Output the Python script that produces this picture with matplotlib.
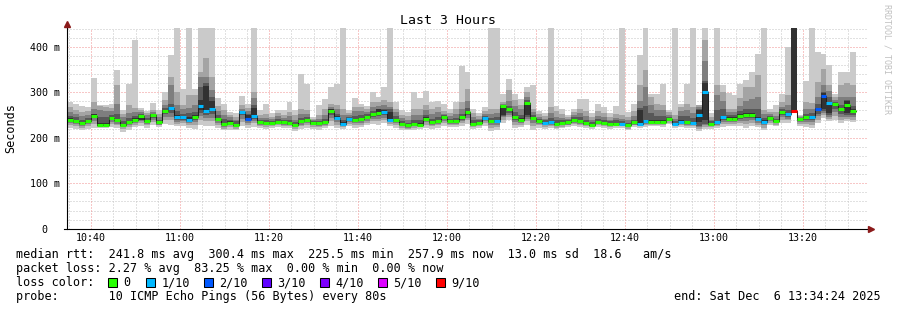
import matplotlib
matplotlib.use("Agg")
import matplotlib.pyplot as plt
from matplotlib.patches import Rectangle

# ---------------- data (values in ms) ----------------
start_min = 10 * 60 + 34 + 36 / 60.0   # left edge of the time axis (minutes since midnight)
end_min = start_min + 180.0
step_min = 80 / 60.0                    # one probe every 80 s

ping1 = [221,219,217,220,221,222,222,224,221,213, 218,224,226,222,228,224,230,228,225,226,
         222,220,228,226,226,222,216,218,216,226, 222,224,222,220,222,223,222,222,215,220,
         222,220,218,222,226,222,220,225,222,224, 228,230,228,232,225,222,218,216,218,220,
         222,220,222,226,224,224,226,230,220,222, 226,214,218,232,238,222,224,228,218,222,
         220,222,219,221,224,226,224,222,220,223, 222,220,222,222,216,224,222,224,226,225,
         224,230,222,224,222,222,215,220,220,222, 224,226,226,226,222,226,224,216,228,226,
         232,232,258,226,224,222,232,244,236,240, 232,236,234]
ping2 = [228,225,222,226,230,224,224,230,227,219, 224,229,232,227,234,227,238,238,231,232,
         228,228,240,236,236,228,220,223,220,235, 228,232,226,224,225,227,226,225,219,225,
         228,224,223,226,236,229,223,230,228,229, 233,236,236,239,230,228,222,219,222,223,
         229,225,227,232,228,228,232,238,224,225, 232,222,224,240,245,229,229,236,226,227,
         224,226,222,224,227,230,228,225,223,227, 225,223,225,225,220,227,225,228,229,228,
         227,233,225,227,226,225,220,224,223,226, 230,231,231,232,230,233,229,222,233,229,
         239,238,258,230,230,229,240,250,242,248, 240,242,240]
ping3 = [232,230,226,230,236,225,225,235,231,223, 228,233,236,231,239,229,245,246,235,236,
         232,234,248,244,244,232,224,227,223,242, 232,237,229,227,228,230,229,227,223,229,
         232,227,226,229,243,234,226,234,232,233, 237,241,242,244,234,232,225,222,226,225,
         234,228,231,237,231,231,236,244,226,228, 236,228,229,245,250,235,233,242,233,231,
         227,229,225,227,229,233,231,227,225,230, 228,226,227,227,223,229,227,231,231,230,
         230,236,227,230,229,228,223,227,226,229, 235,235,235,237,237,239,233,227,237,232,
         245,242,258,234,235,234,247,255,246,256, 246,246,245]
ping4 = [236,233,229,233,243,226,226,239,235,226, 231,236,238,234,244,231,252,255,240,240,
         235,240,255,250,252,236,227,230,226,249, 236,241,231,230,230,232,231,229,226,232,
         235,229,229,231,249,238,228,237,235,237, 241,245,247,249,237,235,227,224,228,227,
         238,231,234,241,234,234,240,249,228,230, 240,232,233,248,255,240,236,246,238,234,
         230,232,227,229,231,236,234,229,227,232, 230,228,229,229,225,231,229,233,233,232,
         232,238,229,232,231,230,225,230,228,231, 239,238,238,242,243,244,236,230,240,234,
         250,246,258,237,239,239,252,258,250,263, 252,250,250]
ping5 = [239,236,231,236,247,227,227,242,237,228, 233,239,240,236,248,233,257,262,244,244,
         238,245,261,256,258,240,229,232,228,254, 238,245,233,232,232,234,233,231,228,235,
         238,231,231,233,255,242,230,240,238,240, 245,249,250,255,239,239,229,226,230,228,
         241,233,236,245,236,236,244,254,230,232, 243,236,236,250,260,244,239,250,242,236,
         232,234,229,231,233,238,236,231,228,234, 232,230,230,230,227,233,233,235,234,234,
         234,240,230,234,233,231,235,240,230,233, 243,241,241,246,248,248,240,234,243,236,
         254,250,258,240,243,243,258,262,254,270, 258,254,256]
ping6 = [243,240,235,240,251,233,232,246,242,231, 237,243,250,239,251,236,261,268,250,248,
         245,249,283,313,280,244,233,236,231,258, 250,265,236,235,235,237,236,234,231,238,
         241,234,234,236,262,247,234,243,242,244, 248,254,262,260,256,242,232,229,233,232,
         245,236,240,248,239,240,248,259,233,235, 246,240,240,270,265,248,243,279,246,239,
         235,237,232,234,236,241,239,234,231,237, 235,233,233,233,230,236,260,240,238,238,
         238,243,233,238,237,235,260,320,233,237, 248,245,245,252,254,254,246,238,246,239,
         259,254,460,242,248,248,266,298,277,276, 266,280,262]
ping7 = [248,245,240,243,253,245,246,250,253,236, 244,248,252,243,253,240,265,275,258,253,
         255,256,311,320,290,250,242,240,236,259, 252,272,240,238,237,242,240,240,234,243,
         246,236,237,242,264,252,240,246,248,250, 251,258,264,264,262,248,236,233,240,240,
         250,242,246,250,242,244,252,266,238,238, 248,244,246,272,270,256,250,282,250,242,
         238,244,238,238,238,245,245,240,235,241, 240,236,238,237,233,240,266,270,255,248,
         248,246,237,248,248,244,262,325,236,260, 262,250,250,258,262,264,262,244,248,242,
         262,260,460,244,252,254,274,300,290,278, 272,282,270]
ping8 = [257,253,248,250,262,261,258,258,275,245, 255,256,256,249,256,246,272,316,272,262,
         265,272,333,334,305,258,250,245,240,262, 258,287,244,244,241,247,244,248,240,252,
         252,238,242,250,268,262,250,250,258,258, 256,268,270,272,268,256,243,240,250,250,
         260,252,256,253,248,252,262,280,246,242, 252,252,254,274,280,270,262,290,256,246,
         242,255,246,244,242,250,254,248,240,248, 246,240,244,242,238,248,280,312,272,260,
         260,250,242,258,260,255,268,368,240,294, 280,256,256,270,280,286,290,252,252,248,
         268,272,460,246,262,264,290,316,302,282, 290,290,290]
ping9 = [268,261,256,258,279,270,268,266,316,252, 272,265,260,254,261,252,283,334,301,272,
         294,294,345,375,334,270,261,250,246,272, 265,301,250,252,246,254,250,257,250,264,
         261,242,250,264,274,272,264,255,268,268, 262,279,279,283,279,264,250,248,264,264,
         272,264,268,258,254,264,279,308,254,248, 258,264,264,279,305,283,272,301,264,252,
         248,268,258,252,246,256,264,258,246,258, 254,246,252,250,246,258,316,349,290,275,
         272,256,250,268,275,268,271,415,246,316, 301,264,264,287,312,312,338,261,256,256,
         279,294,460,248,279,276,323,352,316,290, 316,320,316]
ping10 = [279,274,270,268,332,272,272,275,349,261, 317,415,266,259,277,261,301,382,460,307,
          460,307,460,460,460,287,275,257,254,292, 275,460,261,274,254,261,261,279,261,341,
          318,246,272,285,312,317,460,261,287,275, 270,301,289,312,460,279,261,257,300,288,
          303,278,281,274,264,278,358,345,264,254, 268,460,460,297,329,297,285,312,316,259,
          254,460,270,264,250,264,285,285,254,275, 268,254,270,460,257,275,382,460,296,297,
          317,261,460,275,317,460,272,460,254,460, 316,299,294,319,327,345,383,460,262,272,
          295,400,460,250,325,460,389,383,360,297, 345,345,389]
median = [240,237,232,237,248,228,228,243,238,229, 234,240,248,237,249,234,259,265,245,245,
          239,246,270,259,264,241,230,233,229,256, 241,248,234,233,233,235,234,232,229,236,
          239,232,232,234,259,244,231,241,239,241, 246,251,254,257,240,240,230,227,231,229,
          242,234,237,246,237,237,245,256,231,233, 244,237,237,270,262,245,240,277,244,237,
          233,235,230,232,234,239,237,232,229,235, 233,231,231,231,228,234,231,236,235,235,
          235,241,231,235,234,232,249,300,231,234, 245,242,242,248,250,250,241,235,244,237,
          256,251,258,241,245,245,262,292,277,274, 262,272,259]
lost = [0,0,0,0,0,0,0,0,0,0, 0,0,0,0,0,0,0,1,1,1,
        1,0,1,1,1,0,0,0,0,1, 2,1,0,0,0,0,0,0,0,0,
        0,0,0,0,0,1,1,1,0,0, 0,0,0,1,1,0,0,0,0,0,
        0,0,0,0,0,0,0,0,0,0, 1,0,1,0,0,0,0,0,0,0,
        1,1,0,0,0,0,0,0,0,0, 0,0,0,1,0,0,1,1,0,0,
        0,0,1,1,0,1,1,1,0,1, 1,0,0,0,0,0,1,1,0,0,
        0,1,9,0,0,1,2,2,1,0, 0,0,0]

loss_levels = [0, 1, 2, 3, 4, 5, 9]
loss_labels = ["0", "1/10", "2/10", "3/10", "4/10", "5/10", "9/10"]
loss_colors = ["#26ff00", "#00b8ff", "#0059ff", "#5e00ff", "#7e00ff", "#dd00ff", "#ff0000"]
smoke_colors = ["#cacaca", "#a4a4a4", "#7e7e7e", "#585858", "#323232"]

x_tick_min = [640, 660, 680, 700, 720, 740, 760, 780, 800]
x_tick_labels = ["10:40", "11:00", "11:20", "11:40", "12:00", "12:20", "12:40", "13:00", "13:20"]
y_tick_vals = [0, 100, 200, 300, 400]
y_tick_labels = ["0  ", "100 m", "200 m", "300 m", "400 m"]

title = "Last 3 Hours"
legend_lines = [
    "median rtt:  241.8 ms avg  300.4 ms max  225.5 ms min  257.9 ms now  13.0 ms sd  18.6   am/s",
    "packet loss: 2.27 % avg  83.25 % max  0.00 % min  0.00 % now",
    "loss color:",
    "probe:       10 ICMP Echo Pings (56 Bytes) every 80s",
]
end_text = "end: Sat Dec  6 13:34:24 2025"
side_text = "RRDTOOL / TOBI OETIKER"

# ---------------- figure ----------------
W, H, DPI = 897, 310, 100
MONO = "DejaVu Sans Mono"
fig = plt.figure(figsize=(W / DPI, H / DPI), dpi=DPI, facecolor="white")

def fx(px):
    return px / W

def fy(py):
    return 1 - py / H

ax_left, ax_right, ax_top, ax_bot = 67, 868, 28.0, 228.7
ax = fig.add_axes([fx(ax_left), fy(ax_bot), (ax_right - ax_left) / W, (ax_bot - ax_top) / H])
ax.set_facecolor("white")
ymax = 441.1
ax.set_xlim(start_min, end_min)
ax.set_ylim(0, ymax)

n = len(median)
edges = [start_min + k * step_min for k in range(n + 1)]

def ext(a):
    return list(a) + [a[-1]]

# grid
grey = "#c4c4c4"
red = "#f09090"
for v in range(20, 441, 20):
    ax.axhline(v, color=red if v % 100 == 0 else grey, lw=0.72, ls=(0, (1, 2)), zorder=1)
for m in range(635, 815, 5):
    ax.axvline(m, color=red if m % 20 == 0 else grey, lw=0.72, ls=(0, (1, 2)), zorder=1)

# smoke
bands = [(ping1, ping10), (ping2, ping9), (ping3, ping8), (ping4, ping7), (ping5, ping6)]
for (lo, hi), c in zip(bands, smoke_colors):
    ax.fill_between(edges, ext(lo), ext(hi), step="post", color=c, lw=0,
                    antialiased=False, zorder=2)

# median line
ax.step(edges, ext(median), where="post", color="#202020", lw=0.75, zorder=3)
cmap = dict(zip(loss_levels, loss_colors))
ax.hlines(median, edges[:-1], edges[1:], colors=[cmap[l] for l in lost],
          lw=2.2, zorder=4, capstyle="butt")

# axes decorations
for s in ax.spines.values():
    s.set_visible(False)
ax.plot([0, 0], [0, 1.025], transform=ax.transAxes, color="#000000", lw=0.8,
        clip_on=False, zorder=6)
ax.plot([-0.004, 1.003], [0, 0], transform=ax.transAxes, color="#000000", lw=0.8,
        clip_on=False, zorder=6)
ax.plot([0], [1.02], marker="^", ms=4.5, color="#8b1a1a", transform=ax.transAxes,
        clip_on=False, zorder=7)
ax.plot([1.004], [0], marker=">", ms=4.5, color="#8b1a1a", transform=ax.transAxes,
        clip_on=False, zorder=7)

ax.set_xticks(x_tick_min)
ax.set_xticklabels(x_tick_labels, family=MONO, fontsize=7.2)
ax.set_yticks(y_tick_vals)
ax.set_yticklabels(y_tick_labels, family=MONO, fontsize=7.2)
ax.tick_params(axis="x", length=0, pad=3.2, colors="#000000")
ax.tick_params(axis="y", length=0, pad=5, colors="#000000")

# texts
fig.text(fx(448), fy(24), title, family=MONO, fontsize=9.5, ha="center", va="baseline")
fig.text(fx(11), fy(128), "Seconds", family=MONO, fontsize=8.5, rotation=90,
         ha="center", va="center")
fig.text(fx(887), fy(59), side_text, family=MONO, fontsize=6, rotation=270,
         ha="center", va="center", color="#c0c0c0")

fs_leg = 8.5
baselines = [258, 272, 286, 300]
for txt, b in zip(legend_lines, baselines):
    fig.text(fx(16), fy(b), txt, family=MONO, fontsize=fs_leg, ha="left", va="baseline")

box_x = [108, 146, 204, 262, 320, 378, 436]
for bx, c, lab in zip(box_x, loss_colors, loss_labels):
    fig.add_artist(Rectangle((fx(bx), fy(286.5)), 8.5 / W, 8.5 / H, transform=fig.transFigure,
                             facecolor=c, edgecolor="#000000", lw=0.75))
    fig.text(fx(bx + 15.5), fy(286), lab, family=MONO, fontsize=fs_leg, ha="left", va="baseline")

fig.text(fx(881), fy(300), end_text, family=MONO, fontsize=fs_leg, ha="right", va="baseline")

fig.savefig("out.png", dpi=DPI, facecolor="white")
